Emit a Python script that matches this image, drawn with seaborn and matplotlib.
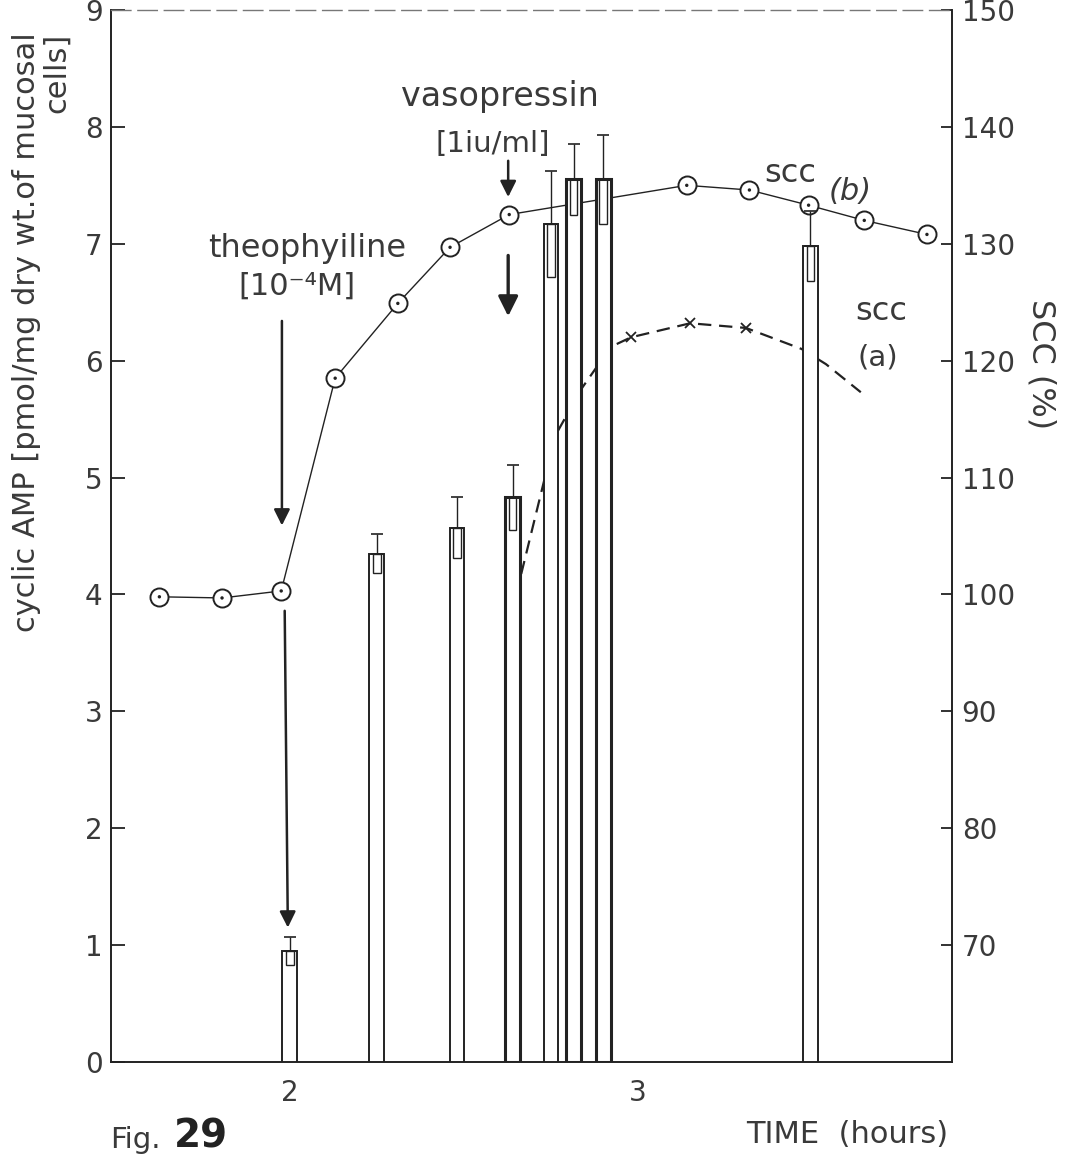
import matplotlib
matplotlib.use('Agg')
import matplotlib.pyplot as plt
import seaborn as sns
import pandas as pd
import numpy as np

# ── Style ──────────────────────────────────────────────────────────────────────
sns.set_theme(style='white')
plt.rcParams['font.family'] = ['DejaVu Sans']
INK = '#222222'
TXT = '#3a3a3a'

# ── Data (time in hours) ───────────────────────────────────────────────────────
bar_time = [2.00, 2.25, 2.48, 2.64, 2.75, 2.815, 2.90, 3.495]
camp     = [0.95, 4.35, 4.57, 4.83, 7.17, 7.55, 7.55, 6.98]
camp_sem = [0.12, 0.17, 0.26, 0.28, 0.45, 0.30, 0.38, 0.30]

scc_b_time = [1.625, 1.805, 1.975, 2.13, 2.31, 2.46, 2.63, 3.14, 3.32, 3.49, 3.65, 3.83]
scc_b      = [99.8, 99.7, 100.3, 118.5, 124.9, 129.7, 132.5, 135.0, 134.6, 133.3, 132.0, 130.8]

scc_a_time = [2.65, 2.73, 2.77, 2.84, 2.88, 2.93, 2.98, 3.15, 3.31, 3.47, 3.54, 3.64]
scc_a      = [100.0, 109.7, 114.0, 117.7, 119.4, 121.3, 122.0, 123.2, 122.8, 121.0, 119.7, 117.3]

camp_ticks = list(range(0, 10))
scc_ticks  = [70, 80, 90, 100, 110, 120, 130, 140, 150]
time_ticks = [2, 3]

df_b = pd.DataFrame({'time': scc_b_time, 'scc': scc_b})
df_a = pd.DataFrame({'time': scc_a_time, 'scc': scc_a})

# ── Figure ─────────────────────────────────────────────────────────────────────
fig = plt.figure(figsize=(10.73, 11.57), dpi=100)
ax = fig.add_axes([111/1073, 95/1157, (952-111)/1073, (1062-10)/1157])
ax2 = ax.twinx()
ax.set_zorder(ax2.get_zorder() + 1)
ax.patch.set_visible(False)

# SCC curves on right axis (drawn behind the bars)
sns.lineplot(data=df_a, x='time', y='scc', ax=ax2, color=INK, lw=1.6,
             linestyle=(0, (6, 3.5)), marker='x', markevery=[6, 7, 8],
             markersize=7, markeredgewidth=1.3, markeredgecolor=INK, sort=False)
sns.lineplot(data=df_b, x='time', y='scc', ax=ax2, color=INK, lw=1.0,
             marker='o', markersize=13, markerfacecolor='white',
             markeredgecolor=INK, markeredgewidth=1.4, sort=False)
sns.scatterplot(data=df_b, x='time', y='scc', ax=ax2, color=INK, s=6,
                edgecolor='none', zorder=5)

# cAMP bars with SEM box and whisker
w = 0.043
for t, v, e in zip(bar_time, camp, camp_sem):
    lw = 2.2 if 2.6 < t < 2.95 and t != 2.75 else 1.4
    ax.bar(t, v, width=w, color='white', edgecolor=INK, linewidth=lw, zorder=3)
    ax.bar(t, e, bottom=v - e, width=w * 0.5, color='none', edgecolor=INK,
           linewidth=1.0, zorder=4)
ax.errorbar(bar_time, camp, yerr=[np.zeros(len(camp)), camp_sem], fmt='none',
            ecolor=INK, elinewidth=1.0, capsize=4.5, capthick=1.2, zorder=4)

# ── Axes ───────────────────────────────────────────────────────────────────────
ax.set_xlim(1.486, 3.902)
ax.set_ylim(0, 9)
ax2.set_ylim(60, 150)
ax.set_xticks(time_ticks)
ax.set_yticks(camp_ticks)
ax2.set_yticks(scc_ticks)
ax.set_xlabel('')
ax.set_ylabel('')
ax2.set_xlabel('')
ax2.set_ylabel('')
ax.tick_params(axis='y', direction='in', length=10, width=1.3, pad=6,
               labelsize=20, labelcolor=TXT, color=INK)
ax.tick_params(axis='x', direction='in', length=0, pad=12,
               labelsize=20, labelcolor=TXT)
ax2.tick_params(axis='y', direction='in', length=8, width=1.3, pad=7,
                labelsize=20, labelcolor=TXT, color=INK)
for s in ax2.spines.values():
    s.set_visible(False)
for name, s in ax.spines.items():
    s.set_visible(True)
    s.set_color(INK)
    s.set_linewidth(1.4)
ax.spines['top'].set_linestyle((0, (14, 5)))
ax.spines['top'].set_color('#777777')
ax.spines['top'].set_linewidth(1.0)

# ── Annotations ────────────────────────────────────────────────────────────────
fs = 23
ax.text(2.603, 8.26, 'vasopressin', fontsize=fs + 1, color=TXT, ha='center', va='center')
ax.text(2.583, 7.85, '[1iu/ml]', fontsize=fs - 2, color=TXT, ha='center', va='center')
ax.text(2.05, 6.96, 'theophyiline', fontsize=fs, color=TXT, ha='center', va='center')
ax.text(2.02, 6.64, '[10⁻⁴M]', fontsize=fs - 1, color=TXT, ha='center', va='center')
ax.text(3.437, 7.60, 'scc', fontsize=fs, color=TXT, ha='center', va='center')
ax.text(3.61, 7.45, '(b)', fontsize=fs - 1, color=TXT, ha='center', va='center',
        style='italic')
ax.text(3.70, 6.42, 'scc', fontsize=fs, color=TXT, ha='center', va='center')
ax.text(3.69, 6.03, '(a)', fontsize=fs - 2, color=TXT, ha='center', va='center')

arrow = dict(arrowstyle='-|>', color=INK, lw=1.8, mutation_scale=24,
             shrinkA=0, shrinkB=0)
ax.annotate('', xy=(1.977, 4.59), xytext=(1.977, 6.34), arrowprops=arrow)
ax.annotate('', xy=(1.994, 1.15), xytext=(1.985, 3.86), arrowprops=arrow)
ax.annotate('', xy=(2.627, 7.40), xytext=(2.627, 7.71), arrowprops=arrow)
ax.annotate('', xy=(2.627, 6.38), xytext=(2.627, 6.90),
            arrowprops=dict(arrowstyle='-|>', color=INK, lw=2.4,
                            mutation_scale=30, shrinkA=0, shrinkB=0))

fig.text(0.039, 0.972, 'cyclic AMP [pmol/mg dry wt.of mucosal\ncells]',
         rotation=90, ha='center', va='top', multialignment='right',
         fontsize=22, color=TXT, linespacing=1.05)
fig.text(0.970, 0.742, 'SCC (%)', rotation=270, ha='center', va='top',
         fontsize=23, color=TXT)
fig.text(0.1025, 0.008, 'Fig.', fontsize=21, color=TXT, ha='left', va='baseline')
fig.text(0.162, 0.008, '29', fontsize=28, fontweight='bold', color=INK,
         ha='left', va='baseline')
fig.text(0.8835, 0.012, 'TIME  (hours)', fontsize=22, color=TXT,
         ha='right', va='baseline')

fig.savefig('out.png', dpi=100, facecolor='white')
